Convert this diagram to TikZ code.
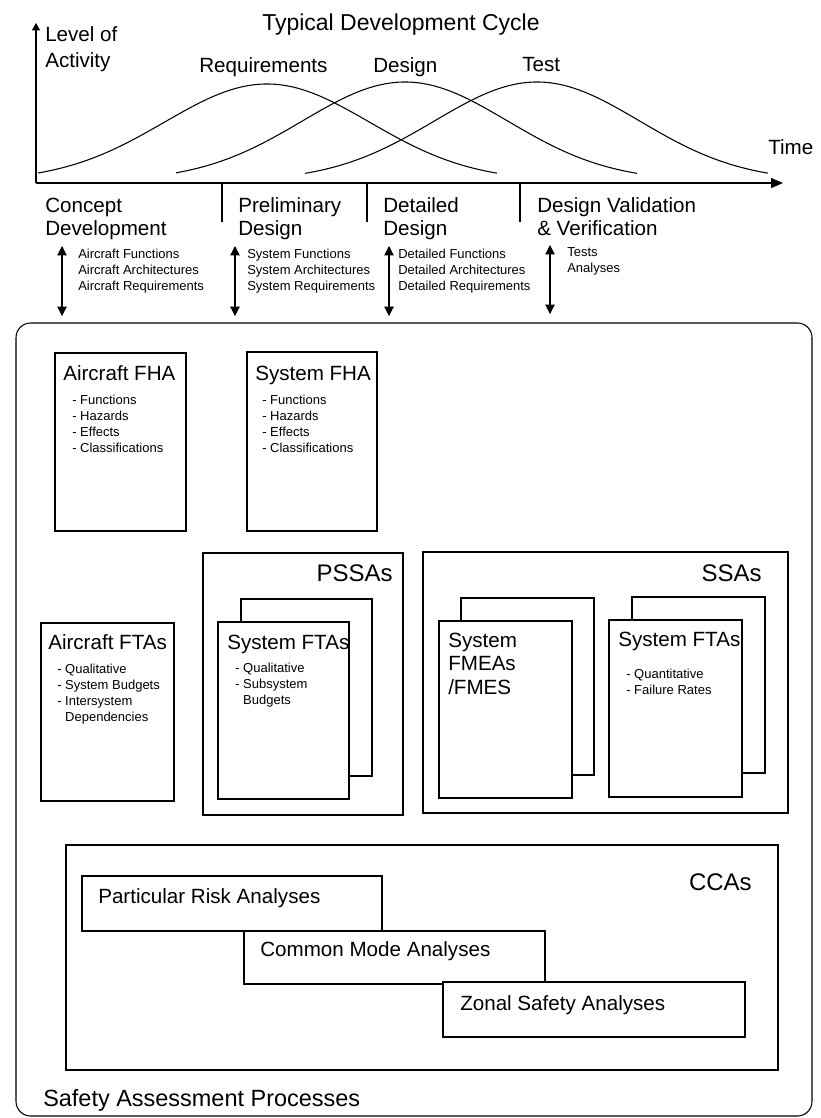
\documentclass[tikz,border=0pt]{standalone}
\usepackage{fontspec}
\setmainfont{Liberation Sans}
\usepackage{tikz}
\usetikzlibrary{positioning, fit}
\usetikzlibrary{arrows.meta}

\newcommand{\bigfont}{\fontsize{15.45}{17.4}\selectfont}
\newcommand{\smallfont}{\fontsize{9.75}{12}\selectfont}

\begin{document}
\begin{tikzpicture}[x=0.75pt, y=-0.75pt]
            \tikzset{box/.style = {draw, rectangle, inner sep=0pt, line width=0.8pt}}
            \tikzset{docbox/.style = {box, fill=white}}
            \tikzset{heading/.style = {font=\bigfont, inner sep=0pt, align=left, anchor=base west}}
            \tikzset{items/.style = {font=\smallfont, inner sep=0pt, align=left, anchor=base west}}
            \tikzset{grouplabel/.style = {font=\fontsize{18}{20}\selectfont, inner sep=0pt, anchor=base east}}
            \tikzset{curve/.style = {line width=0.8pt, smooth, samples=90}}
            \tikzset{twoway/.style = {{Triangle[length=7pt,width=7pt]}-{Triangle[length=7pt,width=7pt]}, line width=0.8pt}}

            \useasboundingbox (0,0) rectangle (821,1118);

            % development cycle axes
            \coordinate (origin) at (36,183);
            \coordinate (ytop) at (36,23);
            \coordinate (xend) at (783,183);
            \draw[line width=0.8pt, -{Triangle[length=5.5pt,width=6pt]}] (origin) -- (ytop);
            \draw[line width=0.8pt, -{Triangle[length=9pt,width=7.5pt]}] (origin) -- (xend);
            \node[font=\fontsize{17.25}{19}\selectfont, inner sep=0pt, anchor=base west] (cycle) at (262,30.3) {Typical Development Cycle};
            % (base of a multi-line node = last line)
            \node[heading] (activity) at (45,67.3) {Level of\\[2pt]Activity};
            \node[heading] (time) at (768,154.4) {Time};

            % activity curves
            \draw[curve] plot[domain=38:497] (\x, {181-97*exp(-1*((\x-267)/145)*((\x-267)/145))});
            \draw[curve] plot[domain=176:637] (\x, {181-99*exp(-1*((\x-405)/145)*((\x-405)/145))});
            \draw[curve] plot[domain=305:768] (\x, {181-99*exp(-1*((\x-537)/145)*((\x-537)/145))});
            \node[heading] (req) at (199,72.4) {Requirements};
            \node[heading] (des) at (373,72.4) {Design};
            \node[heading] (tst) at (522,71.4) {Test};

            % phases
            \coordinate (sep1) at (222,183);
            \coordinate (sep2) at (367,183);
            \coordinate (sep3) at (520,183);
            \foreach \s in {sep1, sep2, sep3}
                \draw[line width=0.8pt] (\s) -- ++(0,39);
            \node[heading] (concept) at (45,235.7) {Concept\\Development};
            \node[heading] (prelim) at (238,235.7) {Preliminary\\Design};
            \node[heading] (detail) at (383,235.7) {Detailed\\Design};
            \node[heading] (valid) at (537,235.7) {Design Validation\\\& Verification};

            % inputs and outputs
            \coordinate (io1t) at (62,246);  \coordinate (io1b) at (62,316);
            \coordinate (io2t) at (235,246); \coordinate (io2b) at (235,316);
            \coordinate (io3t) at (389,246); \coordinate (io3b) at (389,316);
            \coordinate (io4t) at (550,245); \coordinate (io4b) at (550,314);
            \draw[twoway] (io1t) -- (io1b);
            \draw[twoway] (io2t) -- (io2b);
            \draw[twoway] (io3t) -- (io3b);
            \draw[twoway] (io4t) -- (io4b);
            \node[items] (io1) at (78,290.5) {Aircraft Functions\\Aircraft Architectures\\Aircraft Requirements};
            \node[items] (io2) at (247,290.5) {System Functions\\System Architectures\\System Requirements};
            \node[items] (io3) at (398,290.5) {Detailed Functions\\Detailed Architectures\\Detailed Requirements};
            \node[items] (io4) at (567,272) {Tests\\Analyses};

            % safety assessment processes
            \node[box, rounded corners=11pt, fit={(16,323) (812,1116)}] (sap) {};
            \node[font=\fontsize{17.6}{19}\selectfont, inner sep=0pt, anchor=base west] (saptitle) at (43,1106.5) {Safety Assessment Processes};

            % FHAs
            \node[box, fit={(55,353) (186,531)}] (afha) {};
            \node[heading] (afhatitle) at (63,380.4) {Aircraft FHA};
            \node[items] (afhalist) at (72,452.7) {- Functions\\- Hazards\\- Effects\\- Classifications};
            \node[box, fit={(247,352) (377,531)}] (sfha) {};
            \node[heading] (sfhatitle) at (255,380.4) {System FHA};
            \node[items] (sfhalist) at (262,452.7) {- Functions\\- Hazards\\- Effects\\- Classifications};

            % aircraft FTAs
            \node[box, fit={(41,623) (174,801)}] (afta) {};
            \node[heading] (aftatitle) at (48,649.4) {Aircraft FTAs};
            \node[items] (aftalist) at (57,721.7) {- Qualitative\\- System Budgets\\- Intersystem\\\phantom{- }Dependencies};

            % PSSAs
            \node[box, fit={(203,553) (403,815)}] (pssa) {};
            \node[grouplabel] (pssatitle) at (393,581.6) {PSSAs};
            \node[docbox, fit={(241,599) (372,776)}] (pftaback) {};
            \node[docbox, fit={(218,622) (349,799)}] (pfta) {};
            \node[heading] (pftatitle) at (227,649.4) {System FTAs};
            \node[items] (pftalist) at (235,704.7) {- Qualitative\\- Subsystem\\\phantom{- }Budgets};

            % SSAs
            \node[box, fit={(423,552) (788,813)}] (ssa) {};
            \node[grouplabel] (ssatitle) at (762,581.6) {SSAs};
            \node[docbox, fit={(461,598) (594,775)}] (fmeaback) {};
            \node[docbox, fit={(439,621) (572,798)}] (fmea) {};
            \node[heading, font=\fontsize{15.45}{17.6}\selectfont] (fmeatitle) at (448,694.3) {System\\FMEAs\\/FMES};
            \node[docbox, fit={(632,597) (765,773)}] (sftaback) {};
            \node[docbox, fit={(609,620) (742,797)}] (sfta) {};
            \node[heading] (sftatitle) at (618,646.4) {System FTAs};
            \node[items] (sftalist) at (626,694.7) {- Quantitative\\- Failure Rates};

            % CCAs
            \node[box, fit={(66,845) (778,1070)}] (cca) {};
            \node[grouplabel] (ccatitle) at (752,890.6) {CCAs};
            \node[docbox, fit={(82,876) (382,931)}] (pra) {};
            \node[heading] (pratitle) at (98,903.4) {Particular Risk Analyses};
            \node[docbox, fit={(244,931) (545,984)}] (cma) {};
            \node[heading] (cmatitle) at (260,956.4) {Common Mode Analyses};
            \node[docbox, fit={(443,982) (745,1037)}] (zsa) {};
            \node[heading] (zsatitle) at (460,1010.4) {Zonal Safety Analyses};

        \end{tikzpicture}
\end{document}
